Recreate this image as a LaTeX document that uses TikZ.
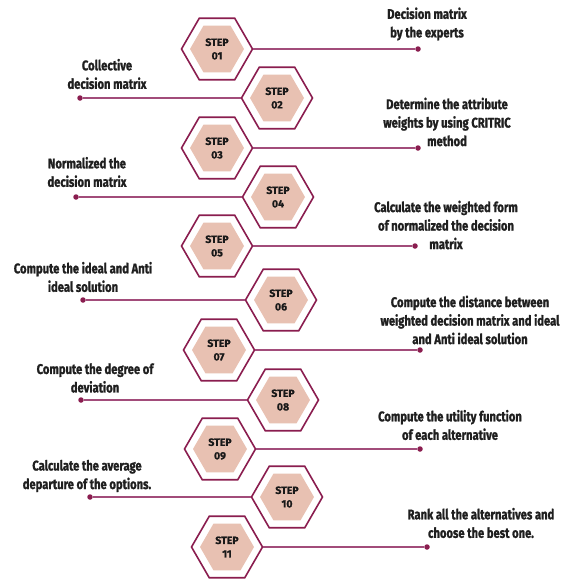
\documentclass[tikz,border=0pt]{standalone}
\usepackage{fontspec}
\setmainfont{Fira Sans}[BoldFeatures={FakeBold=1.2}]
\newfontfamily\notefont[FakeStretch=0.8, BoldFeatures={FakeBold=1.3}]{Fira Sans}
\usetikzlibrary{shapes.geometric}
\definecolor{wine}{HTML}{8A1D4F}
\definecolor{plum}{HTML}{A24C7A}
\definecolor{blush}{HTML}{E8C1B2}
\tikzset{
	hexout/.style={draw=wine, line width=1.6pt, fill=white, regular polygon, regular polygon sides=6, minimum size=71pt, inner sep=0pt},
	hexin/.style={fill=blush, regular polygon, regular polygon sides=6, minimum size=54pt, inner sep=0pt, align=center, text=black!90, font=\bfseries\fontsize{10.5}{13.5}\selectfont},
	dot/.style={circle, fill=wine, inner sep=0pt, minimum size=5.5pt},
	note/.style={align=center, text=black!88, font=\notefont\bfseries\fontsize{14}{18.5}\selectfont},
	link/.style={plum, line width=1.8pt}
}
\begin{document}
\begin{tikzpicture}[x=1pt,y=-1pt]
		\useasboundingbox (0,0) rectangle (566,579);
		
		\node[dot] (d1) at (418,49) {};
		\node[dot] (d2) at (80,98) {};
		\node[dot] (d3) at (418,148) {};
		\node[dot] (d4) at (76,197) {};
		\node[dot] (d5) at (415,246) {};
		\node[dot] (d6) at (83,300) {};
		\node[dot] (d7) at (420,350) {};
		\node[dot] (d8) at (81,400) {};
		\node[dot] (d9) at (420,449) {};
		\node[dot] (d10) at (90,497) {};
		\node[dot] (d11) at (427,547) {};
		
		\node[hexout] (s1) at (217,49) {};
		\node[hexout] (s2) at (277,98) {};
		\node[hexout] (s3) at (217,148) {};
		\node[hexout] (s4) at (278,197) {};
		\node[hexout] (s5) at (217,246) {};
		\node[hexout] (s6) at (281,300) {};
		\node[hexout] (s7) at (219,350) {};
		\node[hexout] (s8) at (283,400) {};
		\node[hexout] (s9) at (220,449) {};
		\node[hexout] (s10) at (287,497) {};
		\node[hexout] (s11) at (227,547) {};
		
		\node[hexin] (h1) at (s1) {STEP\\01};
		\node[hexin] (h2) at (s2) {STEP\\02};
		\node[hexin] (h3) at (s3) {STEP\\03};
		\node[hexin] (h4) at (s4) {STEP\\04};
		\node[hexin] (h5) at (s5) {STEP\\05};
		\node[hexin] (h6) at (s6) {STEP\\06};
		\node[hexin] (h7) at (s7) {STEP\\07};
		\node[hexin] (h8) at (s8) {STEP\\08};
		\node[hexin] (h9) at (s9) {STEP\\09};
		\node[hexin] (h10) at (s10) {STEP\\10};
		\node[hexin] (h11) at (s11) {STEP\\11};
		
		\node[note] (t1) at (427,24) {Decision matrix\\by the experts};
		\node[note] (t2) at (107,74) {Collective\\decision matrix};
		\node[note] (t3) at (447,122) {Determine the attribute\\weights by using CRITRIC\\method};
		\node[note] (t4) at (87,172) {Normalized the\\decision matrix};
		\node[note] (t5) at (446,225) {Calculate the weighted form\\of normalized the decision\\matrix};
		\node[note] (t6) at (83,277) {Compute the ideal and Anti\\ideal solution};
		\node[note] (t7) at (470,320) {Compute the distance between\\weighted decision matrix and ideal\\and Anti ideal solution};
		\node[note] (t8) at (95,378) {Compute the degree of\\deviation};
		\node[note] (t9) at (450,425) {Compute the utility function\\of each alternative};
		\node[note] (t10) at (87,476) {Calculate the average\\departure of the options.};
		\node[note] (t11) at (481,523) {Rank all the alternatives and\\choose the best one.};
		
		\draw[link] (s1) -- (d1);
		\draw[link] (s2) -- (d2);
		\draw[link] (s3) -- (d3);
		\draw[link] (s4) -- (d4);
		\draw[link] (s5) -- (d5);
		\draw[link] (s6) -- (d6);
		\draw[link] (s7) -- (d7);
		\draw[link] (s8) -- (d8);
		\draw[link] (s9) -- (d9);
		\draw[link] (s10) -- (d10);
		\draw[link] (s11) -- (d11);
\end{tikzpicture}
\end{document}
